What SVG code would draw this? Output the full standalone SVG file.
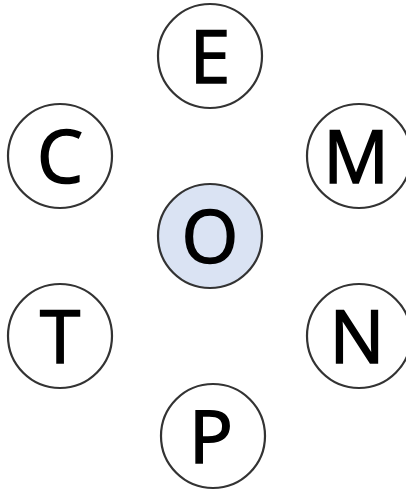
<svg xmlns="http://www.w3.org/2000/svg" width="406" height="490" viewBox="0 0 406 490">
<style>
.n{fill:#ffffff;stroke:#333333;stroke-width:2.2}
.c{fill:#dae3f3}
.t{font-family:"Open Sans","Noto Sans",sans-serif;font-size:73px;fill:#000;stroke:#000;stroke-width:1.6;text-anchor:middle}
</style>
<rect width="406" height="490" fill="#ffffff"/>
<g id="connectors"></g>
<g id="E"><circle class="n" cx="210" cy="56" r="52"/><text class="t" x="210" y="83">E</text></g>
<g id="C"><circle class="n" cx="60" cy="156" r="52"/><text class="t" x="60" y="183">C</text></g>
<g id="M"><circle class="n" cx="359" cy="156" r="52"/><text class="t" x="356" y="183">M</text></g>
<g id="O"><circle class="n c" cx="210" cy="236" r="52"/><text class="t" x="210" y="263">O</text></g>
<g id="T"><circle class="n" cx="60" cy="336" r="52"/><text class="t" x="60" y="363">T</text></g>
<g id="N"><circle class="n" cx="359" cy="336" r="52"/><text class="t" x="357" y="363">N</text></g>
<g id="P"><circle class="n" cx="213" cy="436" r="52"/><text class="t" x="211" y="463">P</text></g>
</svg>
